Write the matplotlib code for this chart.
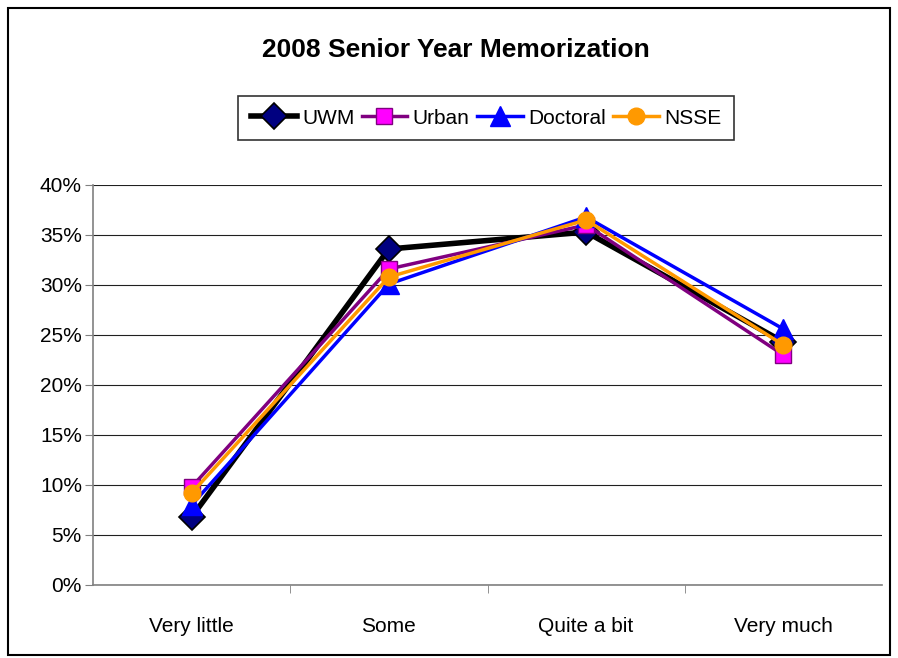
import matplotlib.pyplot as plt
from matplotlib.ticker import FuncFormatter
import matplotlib.patches as mpatches

plt.rcParams['font.family'] = ['Liberation Sans', 'DejaVu Sans']

categories = ["Very little", "Some", "Quite a bit", "Very much"]
uwm = [6.8, 33.6, 35.3, 24.3]
urban = [9.8, 31.6, 36.0, 23.0]
doctoral = [8.0, 30.1, 36.8, 25.6]
nsse = [9.2, 30.8, 36.5, 24.0]

fig = plt.figure(figsize=(8.98, 6.58), dpi=100)
ax = fig.add_axes([93 / 898, 1 - 585 / 658, (882 - 93) / 898, 400 / 658])

x = range(len(categories))
ax.plot(x, uwm, color="black", lw=4, marker="D", ms=13, mfc="#000080",
        mec="black", mew=1.2, label="UWM", zorder=3)
ax.plot(x, urban, color="#800080", lw=2.5, marker="s", ms=11, mfc="#ff00ff",
        mec="#800080", mew=1, label="Urban", zorder=4)
ax.plot(x, doctoral, color="blue", lw=2.5, marker="^", ms=14, mfc="blue",
        mec="blue", label="Doctoral", zorder=5)
ax.plot(x, nsse, color="#ff9900", lw=2.5, marker="o", ms=12, mfc="#ff9900",
        mec="#ff9900", label="NSSE", zorder=6)

ax.set_xlim(-0.5, 3.5)
ax.set_ylim(0, 40)
ax.set_yticks(range(0, 41, 5))
ax.yaxis.set_major_formatter(FuncFormatter(lambda v, p: f"{v:.0f}%"))
ax.set_xticks(x)
ax.set_xticklabels(categories)
ax.set_xticks([0.5, 1.5, 2.5], minor=True)
ax.tick_params(axis="x", which="major", length=0, pad=23, labelsize=15)
ax.tick_params(axis="x", which="minor", length=6, color="#808080", direction="out")
ax.tick_params(axis="y", length=6, color="#808080", labelsize=15, pad=2)
ax.grid(axis="y", color="#202020", lw=0.8)
ax.set_axisbelow(True)
for s in ["top", "right"]:
    ax.spines[s].set_visible(False)
for s in ["left", "bottom"]:
    ax.spines[s].set_color("#808080")
    ax.spines[s].set_linewidth(1.2)

fig.text(456 / 898, 1 - 50 / 658, "2008 Senior Year Memorization",
         ha="center", va="center", fontsize=19, fontweight="bold")

leg = fig.legend(loc="center", bbox_to_anchor=(486 / 898, 1 - 118 / 658),
                 ncol=4, frameon=True, fancybox=False, edgecolor="black",
                 fontsize=15, handlelength=2.2, columnspacing=0.35,
                 handletextpad=0.25, borderpad=0.6, borderaxespad=0)
leg.get_frame().set_linewidth(1.2)

fig.patches.append(mpatches.Rectangle((8 / 898, 3 / 658), 882 / 898, 647 / 658,
                                      transform=fig.transFigure, fill=False,
                                      edgecolor="black", lw=1.5))

fig.savefig("out.png", dpi=100)
